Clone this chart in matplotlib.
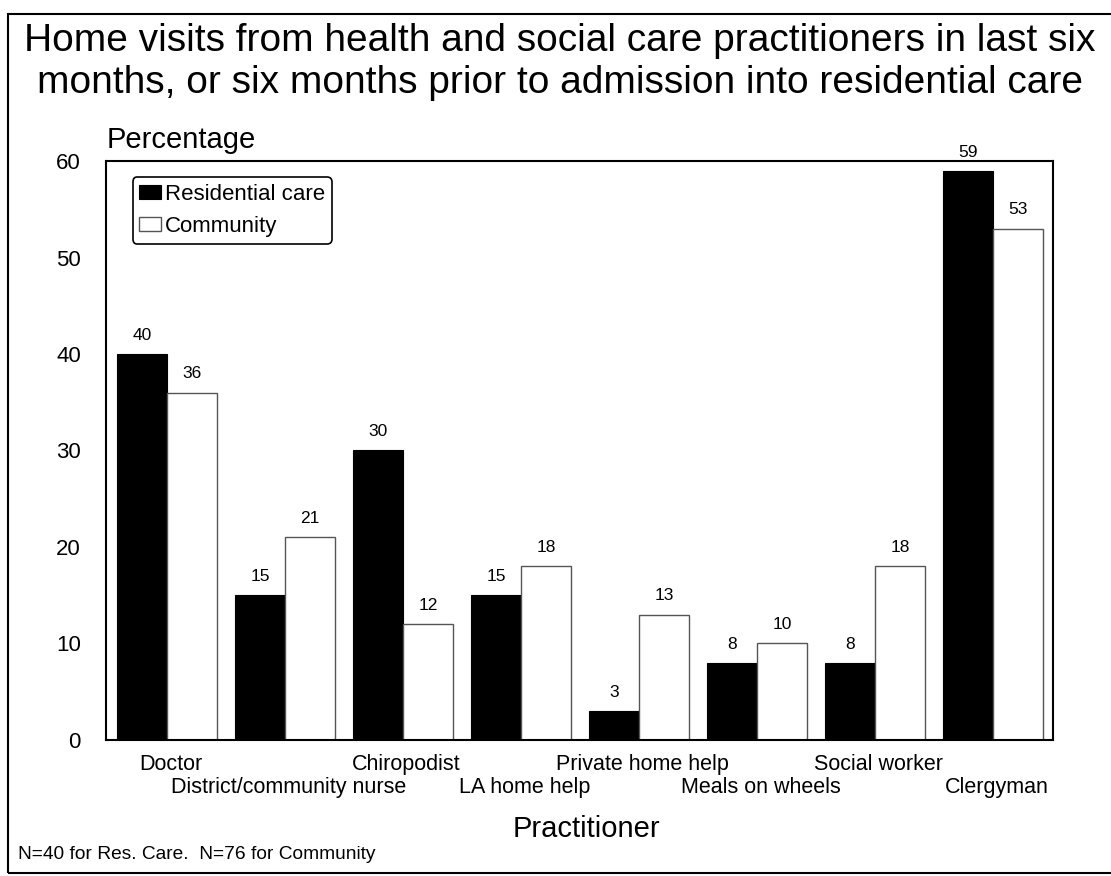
import matplotlib
matplotlib.use("Agg")
import matplotlib.pyplot as plt
import matplotlib.transforms as mtransforms
from matplotlib.patches import Rectangle

plt.rcParams['font.family'] = ['Liberation Sans', 'DejaVu Sans']

practitioners = ["Doctor", "District/community nurse", "Chiropodist", "LA home help",
                 "Private home help", "Meals on wheels", "Social worker", "Clergyman"]
residential = [40, 15, 30, 15, 3, 8, 8, 59]
community = [36, 21, 12, 18, 13, 10, 18, 53]
yticks = [0, 10, 20, 30, 40, 50, 60]

fig = plt.figure(figsize=(11.11, 8.76), dpi=100)
ax = fig.add_axes([0.0954, 0.1553, 0.8524, 0.6609])

x = list(range(len(practitioners)))
w = 0.425
b1 = ax.bar([i - w / 2 for i in x], residential, w, color='black', edgecolor='black',
            linewidth=0.8, label='Residential care')
b2 = ax.bar([i + w / 2 for i in x], community, w, color='white', edgecolor='#555555',
            linewidth=1.0, label='Community')

for bars, vals in ((b1, residential), (b2, community)):
    for r, v in zip(bars, vals):
        ax.annotate(str(v), (r.get_x() + r.get_width() / 2, v), xytext=(0, 8),
                    textcoords='offset points', ha='center', va='bottom', fontsize=12.5)

ax.set_xlim(-0.517, 7.508)
ax.set_ylim(0, 60)
ax.set_yticks(yticks)
ax.set_xticks([])
ax.tick_params(axis='y', length=0, pad=18, labelsize=16)
for s in ax.spines.values():
    s.set_linewidth(1.5)

# staggered category labels
trans = mtransforms.blended_transform_factory(ax.transData, ax.transAxes)
for i, name in enumerate(practitioners):
    yy = -0.042 if i % 2 == 0 else -0.082
    ax.text(i + 0.03, yy, name, transform=trans, ha='center', va='center', fontsize=15.5)

leg = ax.legend(loc='upper left', bbox_to_anchor=(0.028, 0.972), borderaxespad=0,
                fontsize=16, frameon=True, fancybox=True, edgecolor='black',
                handlelength=1.0, handleheight=0.6, handletextpad=0.15,
                borderpad=0.3, labelspacing=0.5)
leg.get_frame().set_linewidth(1.2)
leg.get_frame().set_alpha(1)

fig.text(0.504, 0.929, "Home visits from health and social care practitioners in last six\n"
         "months, or six months prior to admission into residential care",
         ha='center', va='center', fontsize=28, linespacing=1.2)
fig.text(0.0963, 0.840, "Percentage", ha='left', va='center', fontsize=21)
fig.text(0.5275, 0.0537, "Practitioner", ha='center', va='center', fontsize=21)
fig.text(0.0162, 0.024, "N=40 for Res. Care.  N=76 for Community", ha='left', va='center',
         fontsize=13.8)

fig.patches.append(Rectangle((0.0072, 0.0034), 1.2, 0.9806, transform=fig.transFigure,
                             fill=False, edgecolor='black', linewidth=1.5, clip_on=False))

fig.savefig("out.png", dpi=100)
